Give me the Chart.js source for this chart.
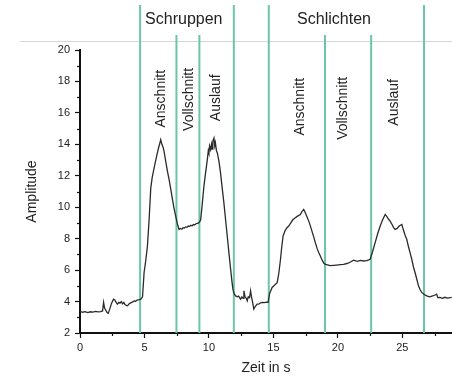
<!DOCTYPE html>
<html>
<head>
<meta charset="utf-8">
<script src="https://cdn.jsdelivr.net/npm/chart.js@4.4.1/dist/chart.umd.min.js"></script>
<style>
  html, body { margin: 0; padding: 0; background: #fff; }
  #wrap { width: 452px; height: 380px; }
</style>
</head>
<body>
<div id="wrap"><canvas id="myChart" width="452" height="380"></canvas></div>
<script>
// signal
const timeS = [
  0, 0.2, 0.4, 0.6, 0.8, 1.0, 1.2, 1.4, 1.6, 1.75, 1.83, 1.9, 2.0, 2.1, 2.19, 2.3, 2.45, 2.6, 2.7, 2.8,
  2.9, 3.0, 3.1, 3.2, 3.3, 3.4, 3.5, 3.6, 3.69, 3.8, 3.9, 4.0, 4.1, 4.2, 4.3, 4.4, 4.5, 4.6, 4.72, 4.85,
  4.97, 5.1, 5.23, 5.36, 5.49, 5.6, 5.75, 5.85, 6.0, 6.1, 6.2, 6.26, 6.35, 6.45, 6.52, 6.65, 6.78, 6.91, 7.05, 7.17,
  7.3, 7.42, 7.55, 7.68, 7.8, 7.9, 8.0, 8.1, 8.2, 8.3, 8.4, 8.5, 8.6, 8.7, 8.8, 8.9, 9.0, 9.1, 9.2, 9.3,
  9.36, 9.48, 9.61, 9.74, 9.87, 9.95, 10.0, 10.05, 10.13, 10.2, 10.25, 10.3, 10.39, 10.45, 10.5, 10.58, 10.65, 10.78, 10.9, 11.03,
  11.16, 11.29, 11.42, 11.55, 11.68, 11.78, 11.86, 11.95, 12.07, 12.2, 12.3, 12.45, 12.55, 12.65, 12.71, 12.8, 12.9, 12.97, 13.05, 13.15,
  13.23, 13.3, 13.4, 13.48, 13.6, 13.74, 13.9, 14.0, 14.13, 14.3, 14.45, 14.59, 14.7, 14.9, 15.1, 15.29, 15.42, 15.55, 15.65, 15.75,
  15.9, 16.05, 16.19, 16.35, 16.5, 16.7, 16.9, 17.09, 17.2, 17.35, 17.45, 17.6, 17.75, 17.87, 18.0, 18.13, 18.25, 18.4, 18.52, 18.64,
  18.8, 18.9, 19.03, 19.2, 19.4, 19.67, 19.9, 20.2, 20.44, 20.7, 20.95, 21.21, 21.5, 21.75, 21.99, 22.25, 22.5, 22.7, 22.89, 23.08,
  23.28, 23.47, 23.67, 23.8, 23.92, 24.05, 24.2, 24.32, 24.44, 24.6, 24.75, 24.85, 24.96, 25.1, 25.22, 25.34, 25.47, 25.6, 25.73, 25.86,
  26.0, 26.12, 26.25, 26.38, 26.5, 26.7, 26.89, 27.1, 27.3, 27.5, 27.66, 27.75, 27.92, 28.1, 28.3, 28.5, 28.82
];
const amplitude = [
  3.38, 3.32, 3.36, 3.30, 3.35, 3.33, 3.37, 3.34, 3.36, 3.40, 3.95, 3.60, 3.45, 3.30, 3.25, 3.50, 3.90, 4.15, 4.10, 3.95,
  3.84, 3.95, 3.90, 4.00, 3.85, 3.95, 3.80, 3.75, 3.73, 3.85, 3.90, 3.95, 3.98, 4.05, 4.00, 4.08, 4.10, 4.12, 4.15, 4.30,
  5.85, 6.60, 7.53, 9.22, 11.23, 11.90, 12.50, 12.90, 13.45, 13.80, 14.10, 14.30, 14.00, 13.80, 13.55, 12.90, 12.30, 11.76, 11.10, 10.50,
  9.90, 9.43, 8.95, 8.59, 8.65, 8.60, 8.70, 8.68, 8.75, 8.72, 8.80, 8.78, 8.85, 8.82, 8.90, 8.88, 8.95, 8.97, 9.00, 9.10,
  9.22, 10.20, 11.33, 12.20, 13.00, 13.60, 13.45, 13.90, 13.66, 14.00, 13.70, 14.20, 14.40, 13.90, 14.10, 13.60, 13.45, 12.90, 12.18, 11.20,
  10.28, 9.20, 8.17, 7.10, 6.06, 5.30, 4.79, 4.50, 4.36, 4.30, 4.35, 4.15, 4.30, 4.20, 4.68, 4.30, 4.20, 4.05, 4.30, 4.25,
  4.68, 4.30, 3.90, 3.52, 3.70, 3.84, 3.85, 3.92, 3.95, 3.93, 3.96, 3.95, 4.50, 4.90, 5.05, 5.20, 5.80, 6.69, 7.50, 8.17,
  8.50, 8.70, 8.80, 9.00, 9.20, 9.33, 9.45, 9.54, 9.70, 9.86, 9.70, 9.40, 9.10, 8.80, 8.45, 8.10, 7.75, 7.35, 7.10, 6.90,
  6.60, 6.45, 6.37, 6.33, 6.28, 6.30, 6.32, 6.35, 6.37, 6.42, 6.50, 6.63, 6.56, 6.62, 6.58, 6.60, 6.69, 7.20, 7.75, 8.30,
  8.80, 9.20, 9.54, 9.40, 9.25, 9.12, 8.90, 8.70, 8.59, 8.65, 8.80, 8.85, 8.90, 8.50, 8.20, 7.96, 7.50, 7.10, 6.69, 6.20,
  5.80, 5.42, 5.00, 4.75, 4.58, 4.45, 4.36, 4.30, 4.35, 4.40, 4.47, 4.25, 4.26, 4.20, 4.27, 4.22, 4.26
];

const xTicks = [0, 5, 10, 15, 20, 25];
const xMinorTicks = [2.5, 7.5, 12.5, 17.5, 22.5, 27.5];
const yTicks = [2, 4, 6, 8, 10, 12, 14, 16, 18, 20];
const yMinorTicks = [3, 5, 7, 9, 11, 13, 15, 17, 19];

// phase boundaries (s); tall lines frame the two passes
const phaseLines = [4.66, 7.48, 9.26, 11.93, 14.64, 19.0, 22.58, 26.68];
const phaseLineTall = [true, false, false, true, true, false, false, true];
const groupNames = ["Schruppen", "Schlichten"];
const groupTime = [8.05, 19.7];
const stepNames = ["Anschnitt", "Vollschnitt", "Auslauf", "Anschnitt", "Vollschnitt", "Auslauf"];
const stepTime = [6.26, 8.43, 10.52, 17.09, 20.42, 24.36];
const stepAmp = [16.9, 16.86, 16.96, 16.39, 16.29, 16.67];

const FONT = "Arial, 'Liberation Sans', sans-serif";
const TEAL = "#6cc5a9";

const phasePlugin = {
  id: "phases",
  beforeDatasetsDraw(chart) {
    const { ctx, chartArea, scales } = chart;
    const x = scales.x;
    ctx.save();
    // faint rule left over from the page layout
    ctx.strokeStyle = "#d6d6d6";
    ctx.lineWidth = 1;
    ctx.beginPath();
    ctx.moveTo(20, chartArea.top - 8.5);
    ctx.lineTo(chart.width, chartArea.top - 8.5);
    ctx.stroke();

    ctx.strokeStyle = TEAL;
    ctx.lineWidth = 2;
    phaseLines.forEach((t, i) => {
      const px = x.getPixelForValue(t);
      ctx.beginPath();
      ctx.moveTo(px, phaseLineTall[i] ? chartArea.top - 45 : chartArea.top - 15);
      ctx.lineTo(px, chartArea.bottom);
      ctx.stroke();
    });
    ctx.restore();
  },
  afterDraw(chart) {
    const { ctx, chartArea, scales } = chart;
    const x = scales.x, y = scales.y;
    ctx.save();

    // minor ticks
    ctx.strokeStyle = "#111";
    ctx.lineWidth = 1.2;
    yMinorTicks.forEach(v => {
      const py = Math.round(y.getPixelForValue(v)) + 0.5;
      ctx.beginPath();
      ctx.moveTo(chartArea.left - 3, py);
      ctx.lineTo(chartArea.left, py);
      ctx.stroke();
    });
    xMinorTicks.forEach(v => {
      const px = Math.round(x.getPixelForValue(v)) + 0.5;
      ctx.beginPath();
      ctx.moveTo(px, chartArea.bottom);
      ctx.lineTo(px, chartArea.bottom + 3);
      ctx.stroke();
    });

    ctx.fillStyle = "#222";
    ctx.textAlign = "center";
    ctx.textBaseline = "middle";
    ctx.font = "16px " + FONT;
    groupNames.forEach((name, i) => {
      ctx.fillText(name, x.getPixelForValue(groupTime[i]), chartArea.top - 30);
    });

    ctx.font = "14px " + FONT;
    stepNames.forEach((name, i) => {
      ctx.save();
      ctx.translate(x.getPixelForValue(stepTime[i]), y.getPixelForValue(stepAmp[i]));
      ctx.rotate(-Math.PI / 2);
      ctx.fillText(name, 0, 0);
      ctx.restore();
    });
    ctx.restore();
  }
};

new Chart(document.getElementById("myChart"), {
  type: "line",
  data: {
    datasets: [
      {
        label: "Amplitude",
        data: timeS.map((t, i) => ({ x: t, y: amplitude[i] })),
        borderColor: "#2a2a2a",
        borderWidth: 1.3,
        pointRadius: 0,
        tension: 0,
        fill: false,
      },
    ],
  },
  options: {
    responsive: false,
    animation: false,
    events: [],
    layout: { padding: { top: 50, right: 0, bottom: 0, left: 0 } },
    plugins: {
      legend: { display: false },
      tooltip: { enabled: false },
    },
    scales: {
      x: {
        type: "linear",
        min: 0,
        max: 28.85,
        afterBuildTicks: (scale) => {
          scale.ticks = xTicks.map(v => ({ value: v }));
        },
        afterFit: (scale) => { scale.height = 47; },
        grid: { drawOnChartArea: false, tickLength: 5, color: "#111", tickWidth: 1.2 },
        border: { color: "#111", width: 2 },
        ticks: { color: "#222", padding: 3, maxRotation: 0, font: { size: 11, family: FONT } },
        title: {
          display: true,
          text: "Zeit in s",
          color: "#222",
          font: { size: 14, family: FONT },
          padding: { top: 0, bottom: 3 },
        },
      },
      y: {
        min: 2,
        max: 20,
        afterBuildTicks: (scale) => {
          scale.ticks = yTicks.map(v => ({ value: v }));
        },
        afterFit: (scale) => { scale.width = 80; },
        grid: { drawOnChartArea: false, tickLength: 5, color: "#111", tickWidth: 1.2 },
        border: { color: "#111", width: 2 },
        ticks: { color: "#222", padding: 5, font: { size: 11, family: FONT } },
        title: {
          display: true,
          text: "Amplitude",
          color: "#222",
          font: { size: 14, family: FONT },
          padding: { top: 24, bottom: 0 },
        },
      },
    },
  },
  plugins: [phasePlugin],
});
</script>
</body>
</html>
